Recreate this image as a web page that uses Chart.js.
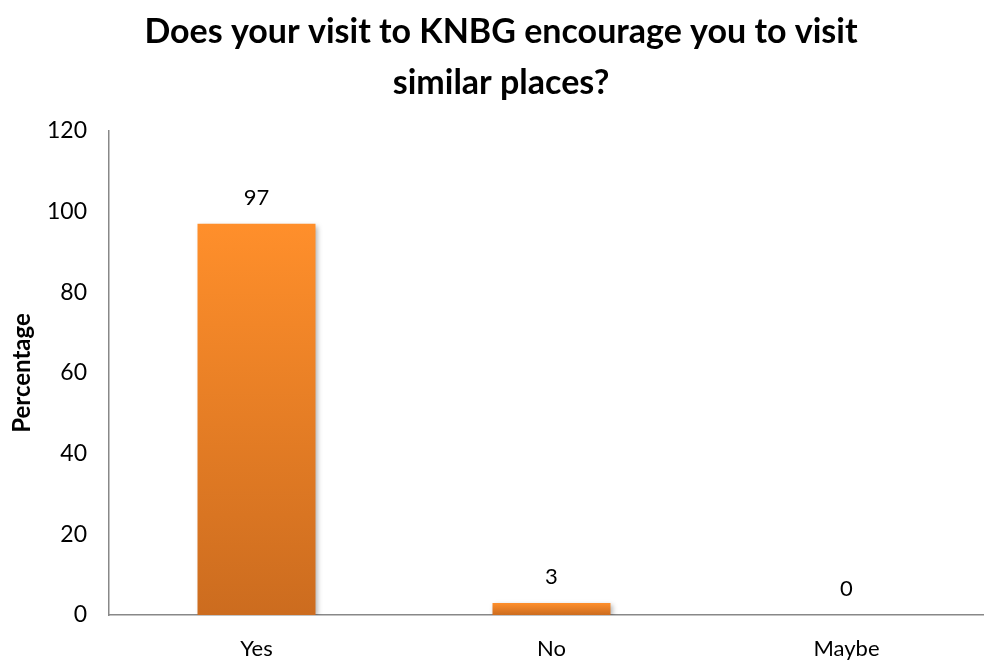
<!DOCTYPE html>
<html>
<head>
<meta charset="utf-8">
<script src="https://cdn.jsdelivr.net/npm/chart.js@4"></script>
<style>
  html, body { margin: 0; padding: 0; background: #fff; overflow: hidden; }
  #wrap { width: 984px; height: 660px; overflow: hidden; }
  #box { width: 1000px; height: 660px; }
</style>
</head>
<body>
<div id="wrap"><div id="box"><canvas id="visitChart"></canvas></div></div>
<script>
let categories = ["Yes", "No", "Maybe"];
let percentages = [97, 3, 0];
let yTicks = [0, 20, 40, 60, 80, 100, 120];

function barGradient(context) {
  let chart = context.chart;
  if (!chart.chartArea || !chart.scales.y) return "#F28A2A";
  let yScale = chart.scales.y;
  let value = context.raw || 0;
  let top = yScale.getPixelForValue(value);
  let bottom = yScale.getPixelForValue(0);
  if (bottom - top < 1) return "#F28A2A";
  let g = chart.ctx.createLinearGradient(0, top, 0, bottom);
  g.addColorStop(0, "#FF8F2B");
  g.addColorStop(1, "#CC6C1F");
  return g;
}

// bar shadow + value labels
let valueLabels = {
  id: "valueLabels",
  beforeDatasetDraw(chart) {
    let ctx = chart.ctx;
    ctx.save();
    ctx.shadowColor = "rgba(0,0,0,0.3)";
    ctx.shadowBlur = 5;
    ctx.shadowOffsetX = 2;
    ctx.shadowOffsetY = 2;
  },
  afterDatasetDraw(chart) {
    chart.ctx.restore();
  },
  afterDatasetsDraw(chart) {
    let ctx = chart.ctx;
    let meta = chart.getDatasetMeta(0);
    ctx.save();
    ctx.font = "22px Lato";
    ctx.fillStyle = "#000";
    ctx.textAlign = "center";
    ctx.textBaseline = "middle";
    meta.data.forEach((bar, i) => {
      ctx.fillText(String(percentages[i]), bar.x, bar.y - 26);
    });
    ctx.restore();
  },
};

let ctx = document.getElementById("visitChart").getContext("2d");
new Chart(ctx, {
  type: "bar",
  data: {
    labels: categories,
    datasets: [
      {
        label: "Percentage",
        data: percentages,
        backgroundColor: barGradient,
        borderWidth: 0,
        barPercentage: 0.4,
        categoryPercentage: 1,
      },
    ],
  },
  plugins: [valueLabels],
  options: {
    responsive: true,
    maintainAspectRatio: false,
    animation: false,
    layout: { padding: { top: 7, right: 6, left: 8, bottom: 0 } },
    plugins: {
      legend: { display: false },
      tooltip: { enabled: false },
      title: {
        display: true,
        text: ["Does your visit to KNBG encourage you to visit", "similar places?"],
        color: "#000",
        font: { family: "Lato", size: 34, weight: "bold", lineHeight: 1.5 },
        padding: { top: 0, bottom: 22 },
      },
    },
    scales: {
      x: {
        afterFit: (axis) => {
          axis.height = 45;
        },
        grid: { display: false, drawTicks: false },
        border: { color: "#888", width: 1.5 },
        ticks: { color: "#000", font: { family: "Lato", size: 22 }, padding: 21 },
      },
      y: {
        min: 0,
        max: 120,
        afterBuildTicks: (axis) => {
          axis.ticks = yTicks.map((v) => ({ value: v }));
        },
        afterFit: (axis) => {
          axis.width = 101;
        },
        grid: { display: false, drawOnChartArea: false, drawTicks: true, tickLength: 7, tickColor: "#888", tickWidth: 1.5 },
        border: { color: "#888", width: 1.5 },
        ticks: { color: "#000", font: { family: "Lato", size: 23 }, padding: 15 },
        title: {
          display: true,
          text: "Percentage",
          color: "#000",
          font: { family: "Lato", size: 24, weight: "bold" },
          padding: 0,
        },
      },
    },
  },
});
</script>
</body>
</html>
